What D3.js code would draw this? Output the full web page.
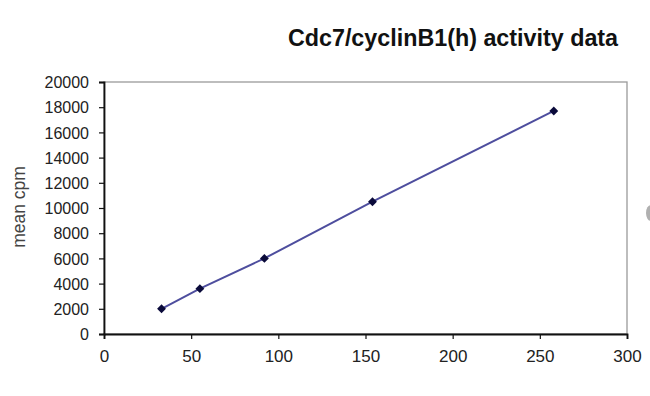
<!DOCTYPE html>
<html>
<head>
<meta charset="utf-8">
<script src="https://cdn.jsdelivr.net/npm/d3@7"></script>
<style>
  body { margin: 0; background: #fff; }
  svg { display: block; font-family: "Liberation Sans", Arial, sans-serif; }
</style>
</head>
<body>
<svg id="chart" width="650" height="396"></svg>
<script>
// values
const amounts = [33, 55, 92, 154, 258]
const meanCpm = [2000, 3600, 6000, 10500, 17700]
const xTicks = [0, 50, 100, 150, 200, 250, 300]
const yTicks = [0, 2000, 4000, 6000, 8000, 10000, 12000, 14000, 16000, 18000, 20000]

const svg = d3.select("#chart")
const plotLeft = 104, plotRight = 627, plotTop = 82, plotBottom = 334

const x = d3.scaleLinear().domain([0, 300]).range([plotLeft, plotRight])
const y = d3.scaleLinear().domain([0, 20000]).range([plotBottom, plotTop])

// plot frame (gray, top and right)
svg.append("rect")
  .attr("x", plotLeft).attr("y", plotTop)
  .attr("width", plotRight - plotLeft).attr("height", plotBottom - plotTop)
  .attr("fill", "none")
  .attr("stroke", "#9a9a9a")
  .attr("stroke-width", 1.3)

const xAxis = svg.append("g")
  .attr("transform", `translate(0,${plotBottom})`)
  .call(d3.axisBottom(x).tickValues(xTicks).tickSize(5).tickPadding(11).tickFormat(d3.format("d")))

const yAxis = svg.append("g")
  .attr("transform", `translate(${plotLeft},0)`)
  .call(d3.axisLeft(y).tickValues(yTicks).tickSize(5).tickPadding(10).tickFormat(d3.format("d")))

for (const g of [xAxis, yAxis]) {
  g.select(".domain").attr("stroke", "#111").attr("stroke-width", 1.8)
  g.selectAll(".tick line").attr("stroke", "#111").attr("stroke-width", 1.2)
  g.selectAll(".tick text").attr("fill", "#222")
}
xAxis.selectAll(".tick text").style("font-size", "17px").attr("dy", "0.72em")
yAxis.selectAll(".tick text").style("font-size", "16px").attr("dy", "0.36em")

const pts = amounts.map((a, i) => ({ a, v: meanCpm[i] }))

svg.append("path")
  .datum(pts)
  .attr("fill", "none")
  .attr("stroke", "#4e4e9e")
  .attr("stroke-width", 2)
  .attr("d", d3.line().x(d => x(d.a)).y(d => y(d.v)))

svg.selectAll(".pt")
  .data(pts)
  .join("path")
  .attr("class", "pt")
  .attr("transform", d => `translate(${x(d.a)},${y(d.v)})`)
  .attr("d", d3.symbol(d3.symbolDiamond2, 50)())
  .attr("fill", "#0a0a3a")

svg.append("text")
  .attr("x", 453).attr("y", 46)
  .attr("text-anchor", "middle")
  .attr("fill", "#111")
  .style("font-size", "23.3px")
  .style("font-weight", "bold")
  .text("Cdc7/cyclinB1(h) activity data")

svg.append("text")
  .attr("transform", "translate(25,207) rotate(-90)")
  .attr("text-anchor", "middle")
  .attr("fill", "#444")
  .style("font-size", "17.5px")
  .text("mean cpm")

// faint round mark at the right edge
svg.append("ellipse")
  .attr("cx", 651).attr("cy", 213)
  .attr("rx", 5).attr("ry", 8)
  .attr("fill", "#b0b0b0")
</script>
</body>
</html>
